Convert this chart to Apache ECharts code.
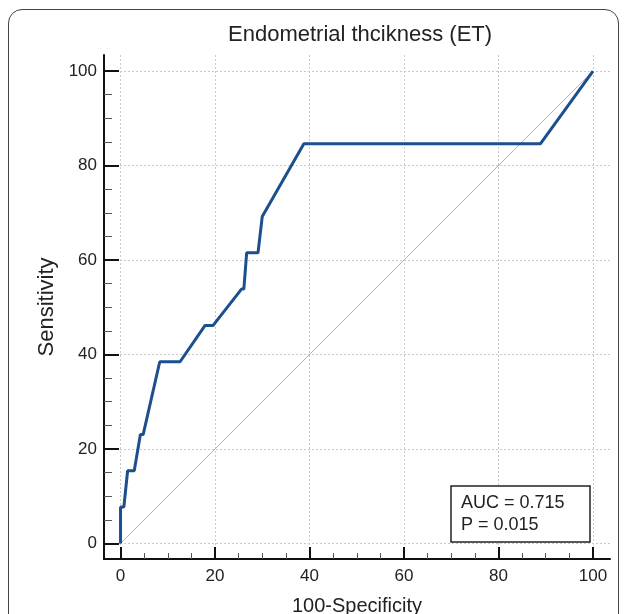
<!DOCTYPE html>
<html>
<head>
<meta charset="utf-8">
<title>Endometrial thcikness (ET)</title>
<script src="https://cdn.jsdelivr.net/npm/echarts@6/dist/echarts.min.js"></script>
<style>
html, body { margin: 0; padding: 0; background: #fff; overflow: hidden; }
#frame { position: absolute; left: 8px; top: 9px; width: 611px; height: 650px; border: 1px solid #444; border-radius: 14px; box-sizing: border-box; }
#chart { position: absolute; left: 0; top: 0; width: 629px; height: 614px; }
</style>
</head>
<body>
<div id="frame"></div>
<div id="chart"></div>
<script>
// ROC curve (100-specificity, sensitivity)
var rocX = [0, 0, 0.7, 1.5, 2.9, 4.2, 4.8, 8.3, 12.6, 17.9, 19.6, 25.6, 26.1, 26.7, 29.1, 30.0, 38.8, 88.9, 100];
var rocY = [0, 7.69, 7.69, 15.38, 15.38, 23.08, 23.08, 38.46, 38.46, 46.15, 46.15, 53.85, 53.85, 61.54, 61.54, 69.23, 84.62, 84.62, 100];
// reference diagonal
var refX = [0, 100];
var refY = [0, 100];
// axis ticks
var majorTicks = [0, 20, 40, 60, 80, 100];
var minorTicks = [5, 10, 15, 25, 30, 35, 45, 50, 55, 65, 70, 75, 85, 90, 95];
var aucText = ["AUC = 0.715", "P = 0.015"];

var font = "Liberation Sans, Arial, sans-serif";

function pairs(xs, ys) {
    var out = [];
    for (var i = 0; i < xs.length; i++) {
        out.push([xs[i], ys[i]]);
    }
    return out;
}

// main axis (labels, major ticks, grid lines)
function mainAxis(isX) {
    return {
        type: "value",
        min: isX ? -3.5 : -3.3,
        max: isX ? 103.6 : 103.4,
        position: isX ? "bottom" : "left",
        name: isX ? "100-Specificity" : "Sensitivity",
        nameLocation: "middle",
        nameGap: isX ? 37 : 44,
        nameTextStyle: { fontFamily: font, fontSize: isX ? 20 : 22, color: "#222" },
        axisLine: { show: true, onZero: false, lineStyle: { color: "#111", width: 2 } },
        axisTick: { show: true, inside: true, length: isX ? 12 : 15, customValues: majorTicks, lineStyle: { color: "#111", width: 2 } },
        axisLabel: { customValues: majorTicks, margin: isX ? 9 : 7, fontFamily: font, fontSize: 17, color: "#222" },
        splitLine: { show: true, lineStyle: { color: "#c9c9c9", width: 1, type: [2, 2] } }
    };
}
// overlay axis for the short minor ticks
function minorAxis(isX) {
    return {
        type: "value",
        min: isX ? -3.5 : -3.3,
        max: isX ? 103.6 : 103.4,
        position: isX ? "bottom" : "left",
        axisLine: { show: false, onZero: false },
        axisTick: { show: true, inside: true, length: isX ? 6 : 8, customValues: minorTicks, lineStyle: { color: "#555", width: 1 } },
        axisLabel: { show: false },
        splitLine: { show: false }
    };
}

var chart = echarts.init(document.getElementById("chart"));
var option = {
    animation: false,
    title: [{
        text: "Endometrial thcikness (ET)",
        left: 228,
        top: 24,
        padding: 0,
        textStyle: { fontFamily: font, fontSize: 22, fontWeight: "normal", color: "#222" }
    }, {
        text: aucText.join("\n"),
        left: 451,
        top: 486,
        padding: [6, 26, 6, 10],
        borderColor: "#222",
        borderWidth: 1.5,
        backgroundColor: "#fff",
        textStyle: { fontFamily: font, fontSize: 18, lineHeight: 22, fontWeight: "normal", color: "#222" }
    }],
    grid: { left: 104, right: 19, top: 55, bottom: 55, outerBoundsMode: "none", containLabel: false },
    xAxis: [mainAxis(true), minorAxis(true)],
    yAxis: [mainAxis(false), minorAxis(false)],
    series: [{
        type: "line",
        data: pairs(refX, refY),
        symbol: "none",
        lineStyle: { color: "#e39aa5", width: 1 },
        emphasis: { disabled: true },
        z: 2
    }, {
        type: "line",
        data: pairs(rocX, rocY),
        symbol: "none",
        lineStyle: { color: "#1b4f8e", width: 3 },
        z: 3
    }]
};
chart.setOption(option);
</script>
</body>
</html>
